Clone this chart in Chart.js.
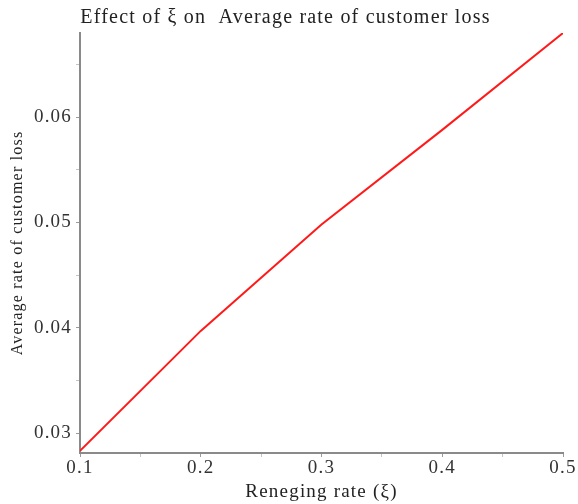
<!DOCTYPE html>
<html>
<head>
<meta charset="utf-8">
<script src="https://cdn.jsdelivr.net/npm/chart.js@4/dist/chart.umd.min.js"></script>
<style>
  html, body { margin: 0; padding: 0; background: #fff; }
  #wrap { width: 578px; height: 504px; }
</style>
</head>
<body>
<div id="wrap"><canvas id="c" width="578" height="504"></canvas></div>
<script>
// Reneging rate (ξ) and the resulting average rate of customer loss
const renegingRate = [0.1, 0.2, 0.3, 0.4, 0.5];
const customerLoss = [0.0283, 0.0397, 0.0498, 0.0588, 0.0680];

// Axis ticks: labelled (major) and unlabelled (minor)
const xMajorTicks = [0.1, 0.2, 0.3, 0.4, 0.5];
const xMinorTicks = [0.15, 0.25, 0.35, 0.45];
const yMajorTicks = [0.03, 0.04, 0.05, 0.06];
const yMinorTicks = [0.035, 0.045, 0.055, 0.065];

const chartTitle = 'Effect of \u03BE on  Average rate of customer loss';
const xTitle = 'Reneging rate (\u03BE)';
const yTitle = 'Average rate of customer loss';

const serif = '"Liberation Serif", "Times New Roman", serif';
const axisGrey = '#8a8a8a';
const letterGap = '1.2px';

const points = renegingRate.map((x, i) => ({ x, y: customerLoss[i] }));

function tickList(major, minor) {
  return major.map(v => ({ value: v, major: true }))
    .concat(minor.map(v => ({ value: v, major: false })))
    .sort((a, b) => a.value - b.value);
}
function isMajor(list, v) {
  return list.some(m => Math.abs(m - v) < 1e-9);
}

// Wide, loosely set lettering for every text on the canvas
const spacedText = {
  id: 'spacedText',
  beforeLayout(chart) { chart.ctx.letterSpacing = letterGap; },
  beforeDraw(chart) { chart.ctx.letterSpacing = letterGap; }
};

new Chart(document.getElementById('c'), {
  type: 'line',
  plugins: [spacedText],
  data: {
    datasets: [{
      data: points,
      borderColor: '#ff1a1a',
      borderWidth: 2,
      pointRadius: 0,
      tension: 0,
      fill: false
    }]
  },
  options: {
    responsive: false,
    animation: false,
    layout: { padding: { left: 8, right: 15, top: 0, bottom: 0 } },
    plugins: {
      legend: { display: false },
      tooltip: { enabled: false },
      title: {
        display: true,
        text: chartTitle,
        color: '#222',
        font: { family: serif, size: 20, weight: 'normal' },
        padding: { top: 6, bottom: 3 }
      }
    },
    scales: {
      x: {
        type: 'linear',
        min: 0.1,
        max: 0.5,
        afterBuildTicks: s => { s.ticks = tickList(xMajorTicks, xMinorTicks); },
        afterFit: s => { s.height = 51; },
        border: { color: axisGrey, width: 2 },
        grid: {
          drawOnChartArea: false,
          drawTicks: true,
          tickLength: 4,
          tickColor: ctx => (ctx.tick && ctx.tick.major ? '#9a9a9a' : '#c4c4c4'),
          tickWidth: 1
        },
        ticks: {
          autoSkip: false,
          maxRotation: 0,
          padding: 0,
          color: '#333',
          font: { family: serif, size: 19 },
          callback: v => (isMajor(xMajorTicks, v) ? String(v) : '')
        },
        title: {
          display: true,
          text: xTitle,
          color: '#222',
          font: { family: serif, size: 19 },
          padding: { top: 0, bottom: 1 }
        }
      },
      y: {
        type: 'linear',
        min: 0.0281,
        max: 0.068,
        afterBuildTicks: s => { s.ticks = tickList(yMajorTicks, yMinorTicks); },
        afterFit: s => { s.width = 72; },
        border: { color: axisGrey, width: 2 },
        grid: {
          drawOnChartArea: false,
          drawTicks: true,
          tickLength: 4,
          tickColor: ctx => (ctx.tick && ctx.tick.major ? '#9a9a9a' : '#c4c4c4'),
          tickWidth: 1
        },
        ticks: {
          autoSkip: false,
          padding: 4,
          color: '#333',
          font: { family: serif, size: 19 },
          callback: v => (isMajor(yMajorTicks, v) ? v.toFixed(2) : '')
        },
        title: {
          display: true,
          text: yTitle,
          color: '#222',
          font: { family: serif, size: 16 },
          padding: { top: 0, bottom: 0 }
        }
      }
    }
  }
});
</script>
</body>
</html>
